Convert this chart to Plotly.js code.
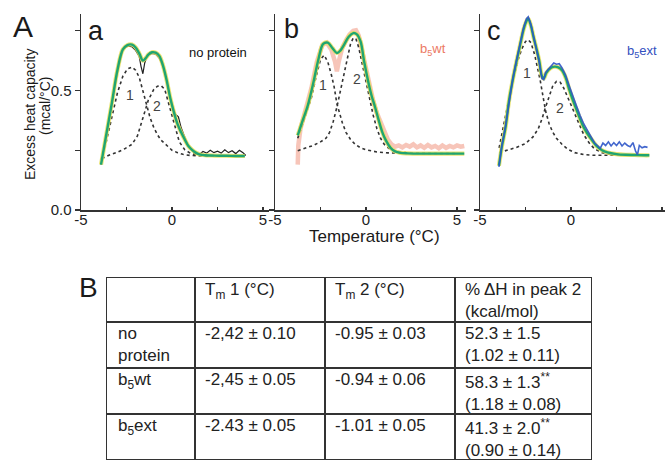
<!DOCTYPE html>
<html>
<head>
<meta charset="utf-8">
<script src="https://cdn.plot.ly/plotly-3.0.1.min.js"></script>
<style>html,body{margin:0;padding:0;background:#fff;}#chart{width:666px;height:460px;}</style>
</head>
<body>
<div id="chart"></div>
<script>
// ---------- Panel a: no protein ----------
const aFitX = [-3.9,-3.6,-3.3,-3.0,-2.7,-2.45,-2.2,-2.0,-1.8,-1.6,-1.45,-1.3,-1.1,-0.9,-0.7,-0.5,-0.3,-0.1,0.1,0.3,0.5,0.7,0.9,1.1,1.3,1.5,1.8,2.2,2.6,3.0,3.5,4.0];
const aFitY = [0.19,0.32,0.45,0.585,0.672,0.69,0.692,0.68,0.655,0.625,0.635,0.65,0.66,0.658,0.645,0.605,0.545,0.47,0.41,0.36,0.325,0.295,0.268,0.252,0.24,0.233,0.229,0.228,0.227,0.227,0.226,0.226];
const aDatX = [-3.9,-3.6,-3.3,-3.0,-2.7,-2.45,-2.2,-2.0,-1.8,-1.7,-1.6,-1.5,-1.35,-1.1,-0.9,-0.7,-0.5,-0.3,-0.1,0.1,0.2,0.35,0.5,0.7,0.9,1.1,1.3,1.5,1.7,1.9,2.1,2.3,2.5,2.7,2.9,3.1,3.3,3.5,3.7,3.9,4.05];
const aDatY = [0.19,0.31,0.44,0.575,0.67,0.685,0.683,0.668,0.642,0.60,0.57,0.615,0.648,0.655,0.652,0.635,0.60,0.54,0.47,0.42,0.40,0.39,0.345,0.305,0.27,0.25,0.235,0.232,0.245,0.238,0.25,0.24,0.246,0.238,0.252,0.24,0.248,0.236,0.25,0.24,0.228];
const aP1X = [-3.9,-3.6,-3.3,-3.0,-2.7,-2.45,-2.2,-2.0,-1.8,-1.6,-1.4,-1.2,-1.0,-0.8,-0.6,-0.3,0,0.3,0.6,1.0,1.5,2.0,2.5];
const aP1Y = [0.21,0.29,0.39,0.49,0.56,0.59,0.598,0.585,0.555,0.50,0.44,0.385,0.345,0.315,0.292,0.27,0.25,0.24,0.233,0.228,0.226,0.225,0.225];
const aP2X = [-3.85,-3.5,-3.0,-2.6,-2.2,-1.9,-1.6,-1.3,-1.0,-0.8,-0.6,-0.4,-0.2,0,0.2,0.4,0.7,1.0,1.5,2.0,2.5];
const aP2Y = [0.215,0.228,0.242,0.256,0.275,0.31,0.385,0.46,0.505,0.518,0.52,0.505,0.45,0.395,0.33,0.285,0.252,0.238,0.228,0.225,0.225];

// ---------- Panel b: b5wt ----------
const bFitX = [-3.75,-3.5,-3.2,-2.9,-2.6,-2.35,-2.1,-1.85,-1.6,-1.4,-1.2,-0.95,-0.7,-0.5,-0.3,-0.1,0.1,0.3,0.5,0.7,0.9,1.1,1.35,1.6,1.9,2.3,3.0,4.0,5.0,5.4];
const bFitY = [0.3125,0.37,0.437,0.53,0.635,0.695,0.70,0.678,0.657,0.668,0.692,0.725,0.74,0.735,0.705,0.62,0.545,0.48,0.43,0.375,0.325,0.29,0.26,0.245,0.239,0.237,0.236,0.236,0.236,0.236];
const bDatX = [-3.75,-3.72,-3.6,-3.3,-3.0,-2.7,-2.4,-2.15,-1.9,-1.7,-1.6,-1.5,-1.3,-1.1,-0.9,-0.7,-0.55,-0.4,-0.2,0,0.2,0.4,0.6,0.8,1.0,1.2,1.4,1.6,1.8,2.0,2.2,2.4,2.6,2.8,3.0,3.2,3.4,3.6,3.8,4.0,4.2,4.4,4.6,4.8,5.0,5.2,5.4];
const bDatY = [0.19,0.27,0.34,0.42,0.51,0.62,0.69,0.70,0.67,0.62,0.58,0.62,0.68,0.71,0.735,0.75,0.752,0.73,0.66,0.59,0.52,0.455,0.405,0.37,0.33,0.295,0.275,0.265,0.27,0.262,0.272,0.265,0.275,0.262,0.27,0.26,0.272,0.262,0.268,0.258,0.27,0.26,0.268,0.262,0.27,0.265,0.268];
const bP1X = [-3.75,-3.5,-3.25,-3.0,-2.75,-2.5,-2.3,-2.1,-1.9,-1.75,-1.6,-1.45,-1.3,-1.1,-0.85,-0.6,-0.3,0,0.6,1.2,2.0,3.0,4.0,5.0];
const bP1Y = [0.30,0.355,0.41,0.47,0.555,0.63,0.648,0.62,0.565,0.515,0.445,0.40,0.365,0.325,0.295,0.275,0.26,0.252,0.243,0.239,0.237,0.237,0.236,0.236];
const bP2X = [-3.75,-3.3,-2.9,-2.5,-2.2,-2.0,-1.8,-1.6,-1.4,-1.2,-1.0,-0.85,-0.7,-0.55,-0.4,-0.2,0,0.2,0.4,0.6,0.8,1.0,1.3,1.7,2.2,3.0,4.0,5.0];
const bP2Y = [0.248,0.258,0.27,0.285,0.30,0.325,0.37,0.43,0.50,0.575,0.65,0.695,0.72,0.715,0.68,0.61,0.535,0.465,0.395,0.34,0.30,0.275,0.255,0.245,0.24,0.237,0.236,0.236];

// ---------- Panel c: b5ext ----------
const cFitX = [-3.96,-3.8,-3.6,-3.4,-3.2,-3.0,-2.8,-2.6,-2.45,-2.35,-2.2,-2.05,-1.9,-1.75,-1.6,-1.5,-1.35,-1.1,-0.9,-0.7,-0.5,-0.3,-0.1,0.1,0.3,0.5,0.7,0.9,1.1,1.4,1.7,2.0,2.5,3.0,3.5,4.0,4.3];
const cFitY = [0.185,0.265,0.345,0.46,0.545,0.62,0.69,0.758,0.79,0.80,0.77,0.72,0.675,0.625,0.56,0.55,0.575,0.595,0.60,0.597,0.585,0.555,0.505,0.46,0.42,0.38,0.345,0.32,0.298,0.268,0.25,0.241,0.234,0.231,0.23,0.229,0.229];
const cDatX = [-3.96,-3.8,-3.6,-3.4,-3.2,-3.0,-2.8,-2.6,-2.45,-2.35,-2.2,-2.05,-1.9,-1.75,-1.6,-1.5,-1.4,-1.25,-1.1,-0.95,-0.8,-0.65,-0.5,-0.3,-0.1,0.1,0.3,0.5,0.7,0.9,1.1,1.3,1.45,1.6,1.75,1.9,2.05,2.2,2.35,2.5,2.65,2.8,2.95,3.1,3.25,3.4,3.55,3.65,3.75,3.9,4.05,4.2];
const cDatY = [0.18,0.27,0.35,0.46,0.55,0.625,0.70,0.765,0.80,0.808,0.775,0.725,0.675,0.62,0.55,0.545,0.575,0.59,0.605,0.615,0.61,0.612,0.595,0.565,0.52,0.475,0.435,0.395,0.36,0.333,0.305,0.28,0.27,0.258,0.28,0.27,0.285,0.268,0.282,0.27,0.285,0.268,0.28,0.27,0.265,0.282,0.245,0.232,0.27,0.26,0.265,0.262];
const cP1X = [-3.95,-3.7,-3.45,-3.2,-2.9,-2.7,-2.5,-2.35,-2.2,-2.0,-1.85,-1.7,-1.55,-1.4,-1.2,-1.0,-0.8,-0.5,-0.2,0.2,0.7,1.2,2.0,3.0,4.2];
const cP1Y = [0.26,0.36,0.45,0.54,0.63,0.675,0.705,0.712,0.70,0.65,0.60,0.545,0.48,0.415,0.36,0.325,0.30,0.275,0.255,0.24,0.232,0.229,0.229,0.229,0.229];
const cP2X = [-3.95,-3.5,-3.0,-2.5,-2.1,-1.8,-1.6,-1.4,-1.2,-1.0,-0.8,-0.6,-0.4,-0.2,0,0.2,0.4,0.7,1.0,1.3,1.7,2.2,3.0,4.2];
const cP2Y = [0.24,0.25,0.262,0.278,0.305,0.34,0.38,0.43,0.48,0.52,0.538,0.535,0.51,0.475,0.44,0.40,0.365,0.315,0.28,0.255,0.24,0.232,0.229,0.229];

// ---------- Axis ticks ----------
const xTickVals = [-5,-2.5,0,2.5,5];
const xTickText = ["-5","","0","","5"];
const yTickVals = [0,0.25,0.5,0.75];
const yTickTextA = ["0.0","","0.5",""];
const yTickTextBlank = ["","","",""];

// ---------- Table B ----------
const tableHeader = ["", "T<sub>m</sub> 1 (°C)", "T<sub>m</sub> 2 (°C)", "% ΔH in peak 2<br>(kcal/mol)"];
const rowLabels = ["no<br>protein", "b<sub>5</sub>wt", "b<sub>5</sub>ext"];
const tm1 = ["-2,42 ± 0.10", "-2,45 ± 0.05", "-2.43 ± 0.05"];
const tm2 = ["-0.95 ± 0.03", "-0.94 ± 0.06", "-1.01 ± 0.05"];
const dH = ["52.3 ± 1.5<br>(1.02 ± 0.11)", "58.3 ± 1.3<sup>**</sup><br>(1.18 ± 0.08)", "41.3 ± 2.0<sup>**</sup><br>(0.90 ± 0.14)"];
const colWidths = [89, 130, 130, 137];
const rowHeights = [45, 46, 46, 46];

// ---------- Build ----------
const W = 666, H = 460;
const px = v => v / W;
const py = v => 1 - v / H;

const FONT = 'Liberation Sans, Arial, Helvetica, sans-serif';
const TICKFONT = {family: FONT, size: 15, color: '#222'};

const halo = 'rgba(232,222,90,0.85)';
const green = '#1fa571';
const dashStyle = {color: '#333', width: 1.6, dash: '3px,3px'};

function line(x, y, xa, ya, l) {
  return {type: 'scatter', mode: 'lines', x: x, y: y, xaxis: xa, yaxis: ya, line: l, hoverinfo: 'skip', showlegend: false};
}

const traces = [
  // panel a
  line(aP1X, aP1Y, 'x', 'y', dashStyle),
  line(aP2X, aP2Y, 'x', 'y', dashStyle),
  line(aDatX, aDatY, 'x', 'y', {color: '#222', width: 1.2}),
  line(aFitX, aFitY, 'x', 'y', {color: halo, width: 4.2, shape: 'spline'}),
  line(aFitX, aFitY, 'x', 'y', {color: green, width: 2.4, shape: 'spline'}),
  // panel b
  line(bDatX, bDatY, 'x2', 'y2', {color: 'rgba(240,140,115,0.5)', width: 4.5}),
  line(bP1X, bP1Y, 'x2', 'y2', dashStyle),
  line(bP2X, bP2Y, 'x2', 'y2', dashStyle),
  line(bFitX, bFitY, 'x2', 'y2', {color: halo, width: 4.2, shape: 'spline'}),
  line(bFitX, bFitY, 'x2', 'y2', {color: green, width: 2.4, shape: 'spline'}),
  // panel c
  line(cP1X, cP1Y, 'x3', 'y3', dashStyle),
  line(cP2X, cP2Y, 'x3', 'y3', dashStyle),
  line(cFitX, cFitY, 'x3', 'y3', {color: halo, width: 4.2, shape: 'spline'}),
  line(cFitX, cFitY, 'x3', 'y3', {color: green, width: 2.4, shape: 'spline'}),
  line(cDatX, cDatY, 'x3', 'y3', {color: 'rgba(45,85,200,0.9)', width: 1.6})
];

// Table on its own hidden axes: x = horizontal position inside table, y = vertical (reversed)
const colEdges = [0];
colWidths.forEach(w => colEdges.push(colEdges[colEdges.length - 1] + w));
const rowEdges = [0];
rowHeights.forEach(h => rowEdges.push(rowEdges[rowEdges.length - 1] + h));
const tW = colEdges[colEdges.length - 1], tH = rowEdges[rowEdges.length - 1];

const shapes = [];
const TL = {color: '#333', width: 2};
colEdges.forEach(cx => shapes.push({type: 'line', xref: 'x4', yref: 'y4', x0: cx, x1: cx, y0: 0, y1: tH, line: TL}));
rowEdges.forEach(ry => shapes.push({type: 'line', xref: 'x4', yref: 'y4', x0: 0, x1: tW, y0: ry, y1: ry, line: TL}));

const tableCols = [rowLabels, tm1, tm2, dH];
const tableAnns = [];
function cellAnn(ci, ri, text) {
  tableAnns.push({xref: 'x4', yref: 'y4', x: colEdges[ci] + (ci === 0 ? 10 : 8), y: rowEdges[ri] + (ri === 0 ? 1 : 0),
    text: text, showarrow: false, xanchor: 'left', yanchor: 'top', align: 'left',
    font: {family: FONT, size: 17, color: '#222'}});
}
tableHeader.forEach((t, ci) => { if (t) cellAnn(ci, 0, t); });
tableCols.forEach((col, ci) => col.forEach((t, r) => cellAnn(ci, r + 1, t)));

function xaxis(domain, range, anchor) {
  return {domain: domain, range: range, anchor: anchor, showline: true, linecolor: '#333', linewidth: 1.5,
    ticks: 'inside', ticklen: 3, tickcolor: '#333', tickwidth: 1.2, tickvals: xTickVals, ticktext: xTickText,
    tickfont: TICKFONT, ticklabelstandoff: -5, showgrid: false, zeroline: false, fixedrange: true};
}
function yaxis(anchor, text) {
  return {domain: [py(210), py(14)], range: [0, 0.82], anchor: anchor, showline: true, linecolor: '#333', linewidth: 1.5,
    ticks: 'outside', ticklen: 5, tickcolor: '#333', tickwidth: 1.2, tickvals: yTickVals, ticktext: text,
    tickfont: TICKFONT, showgrid: false, zeroline: false, fixedrange: true};
}

function pAnn(x, y, text, size, extra) {
  return Object.assign({xref: 'paper', yref: 'paper', x: px(x), y: py(y), text: text, showarrow: false,
    xanchor: 'center', yanchor: 'middle', font: {family: FONT, size: size, color: '#1a1a1a'}}, extra || {});
}
function dAnn(xr, yr, x, y, text, size, color) {
  return {xref: xr, yref: yr, x: x, y: y, text: text, showarrow: false, xanchor: 'center', yanchor: 'middle',
    font: {family: FONT, size: size, color: color}};
}

const layout = {
  width: W, height: H,
  margin: {l: 0, r: 0, t: 0, b: 0},
  paper_bgcolor: 'white', plot_bgcolor: 'white',
  showlegend: false,
  xaxis: xaxis([px(81), px(268.5)], [-5, 5.3], 'y'),
  xaxis2: xaxis([px(275), px(466.1)], [-5, 5.5], 'y2'),
  xaxis3: xaxis([px(480), px(665)], [-5, 5.16], 'y3'),
  yaxis: yaxis('x', yTickTextA),
  yaxis2: yaxis('x2', yTickTextBlank),
  yaxis3: yaxis('x3', yTickTextBlank),
  xaxis4: {domain: [px(106), px(106 + tW)], range: [0, tW], anchor: 'y4', visible: false, fixedrange: true},
  yaxis4: {domain: [py(277 + tH), py(277)], range: [tH, 0], anchor: 'x4', visible: false, fixedrange: true},
  shapes: shapes,
  annotations: [
    pAnn(23, 26, 'A', 30),
    pAnn(88, 287, 'B', 28),
    pAnn(96, 31, 'a', 27),
    pAnn(291, 29, 'b', 27),
    pAnn(494, 31, 'c', 27),
    pAnn(374, 236, 'Temperature (°C)', 17),
    pAnn(30, 114, 'Excess heat capacity', 14, {textangle: -90}),
    pAnn(45, 106, '(mcal/°C)', 14, {textangle: -90}),
    dAnn('x', 'y', -2.3, 0.48, '1', 14, '#444'),
    dAnn('x', 'y', -0.84, 0.435, '2', 14, '#444'),
    dAnn('x', 'y', 2.5, 0.66, 'no protein', 13, '#111'),
    dAnn('x2', 'y2', -2.39, 0.525, '1', 14, '#444'),
    dAnn('x2', 'y2', -0.48, 0.546, '2', 14, '#444'),
    dAnn('x2', 'y2', 3.7, 0.67, 'b<sub>5</sub>wt', 13, '#ec7a64'),
    dAnn('x3', 'y3', -2.43, 0.574, '1', 14, '#444'),
    dAnn('x3', 'y3', -0.6, 0.428, '2', 14, '#444'),
    dAnn('x3', 'y3', 3.88, 0.664, 'b<sub>5</sub>ext', 13, '#3350c0')
  ].concat(tableAnns)
};

Plotly.newPlot('chart', traces, layout, {displayModeBar: false, staticPlot: true});
</script>
</body>
</html>
